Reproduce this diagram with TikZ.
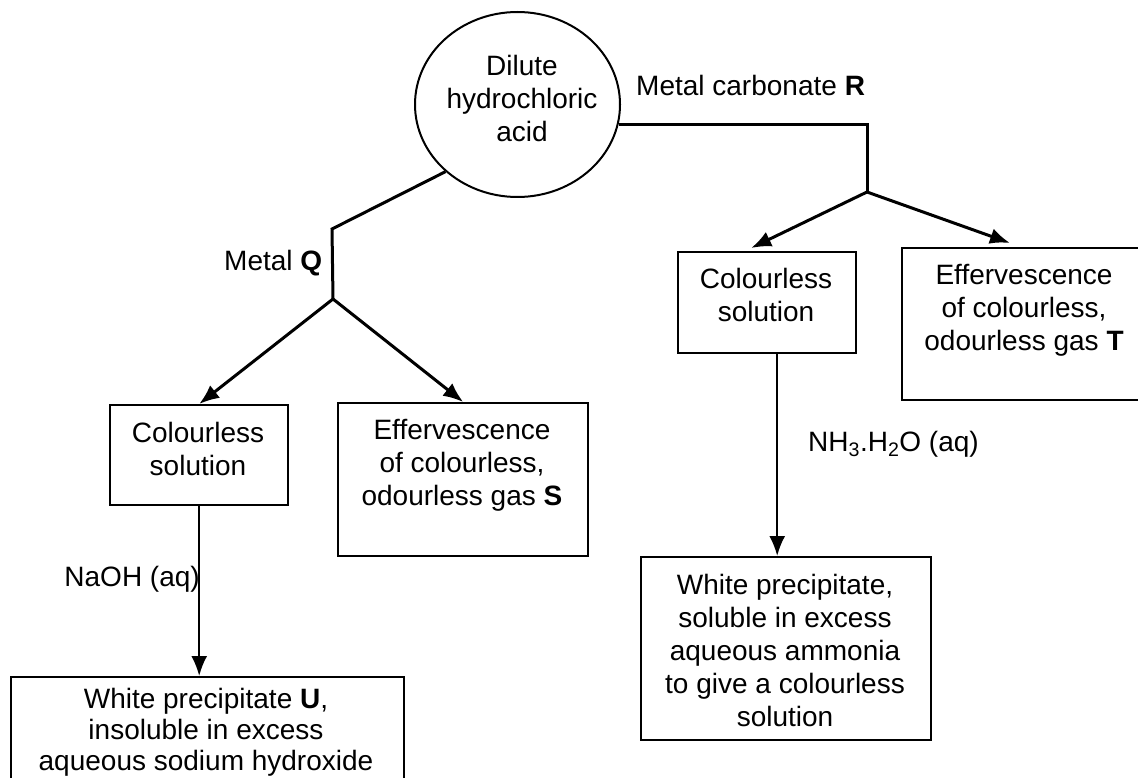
\documentclass[tikz,border=0pt]{standalone}
\usepackage{fontspec}
\setmainfont{Liberation Sans}
\usetikzlibrary{shapes.geometric,arrows.meta,calc}
\begin{document}
\begin{tikzpicture}[x=1pt,y=-1pt,
  every node/.style={font=\fontsize{28}{33}\selectfont, inner sep=0pt},
  boxnode/.style={draw, line width=2.4pt, anchor=north west},
  txt/.style={anchor=north, align=center},
  conn/.style={line width=3pt},
  thin/.style={line width=2.2pt},
  arr/.style={-{Latex[length=20pt,width=16pt]}}]
\useasboundingbox (0,0) rectangle (1138,778);
\clip (0,0) rectangle (1138,778);
\fill[white] (0,0) rectangle (1138,778);

% acid
\node[draw, ellipse, line width=2pt, minimum width=205, minimum height=185] (acid) at (517.5,104.5) {};
\node[txt] (acidtxt) at (522,55) {Dilute\\hydrochloric\\acid};

% labels
\node[anchor=base west] (mcr) at (636,96) {Metal carbonate \textbf{R}};
\node[anchor=base west] (mq) at (224,270) {Metal \textbf{Q}};
\node[anchor=base east] (naoh) at (200,586) {NaOH (aq)};
\node[anchor=base west] (nh3) at (808,451) {NH\textsubscript{3}.H\textsubscript{2}O (aq)};

% boxes
\node[boxnode, minimum width=178, minimum height=100] (lc) at (109,404) {};
\node[txt] (lctxt) at (198,422) {Colourless\\solution};

\node[boxnode, minimum width=250, minimum height=153] (sbox) at (337,402) {};
\node[txt] (stxt) at (462,419) {Effervescence\\of colourless,\\odourless gas \textbf{S}};

\node[boxnode, minimum width=178, minimum height=101] (rc) at (677,251) {};
\node[txt] (rctxt) at (766,268) {Colourless\\solution};

\node[boxnode, minimum width=260, minimum height=152] (tbox) at (901,247) {};
\node[txt] (ttxt) at (1024,264) {Effervescence\\of colourless,\\odourless gas \textbf{T}};

\node[boxnode, minimum width=393, minimum height=130] (ubox) at (10,676) {};
\node[txt, font=\fontsize{28}{31}\selectfont] (utxt) at (206,688) {White precipitate \textbf{U},\\insoluble in excess\\aqueous sodium hydroxide};

\node[boxnode, minimum width=290, minimum height=183] (abox) at (640,556) {};
\node[txt] (atxt) at (785,574) {White precipitate,\\soluble in excess\\aqueous ammonia\\to give a colourless\\solution};

% connectors
\coordinate (kinkQ) at (332,229);
\coordinate (apexQ) at (333,299);
\coordinate (apexR) at (867,192);
\draw[conn] (acid.223) -- (kinkQ) -- (apexQ);
\draw[conn,arr] (apexQ) -- (lc.north);
\draw[conn,arr] (apexQ) -- (sbox.north);
\draw[conn] (acid.-11) -| (apexR);
\draw[conn,arr] (apexR) -- ($(rc.north)+(-16,-3)$);
\draw[conn,arr] (apexR) -- ($(tbox.north west)+(109,-4)$);
\draw[thin,arr] (lc.south) -- (lc.south |- ubox.north);
\coordinate (rcout) at ($(rc.south)+(10,0)$);
\draw[thin,arr] (rcout) -- (rcout |- abox.north);
\end{tikzpicture}
\end{document}
